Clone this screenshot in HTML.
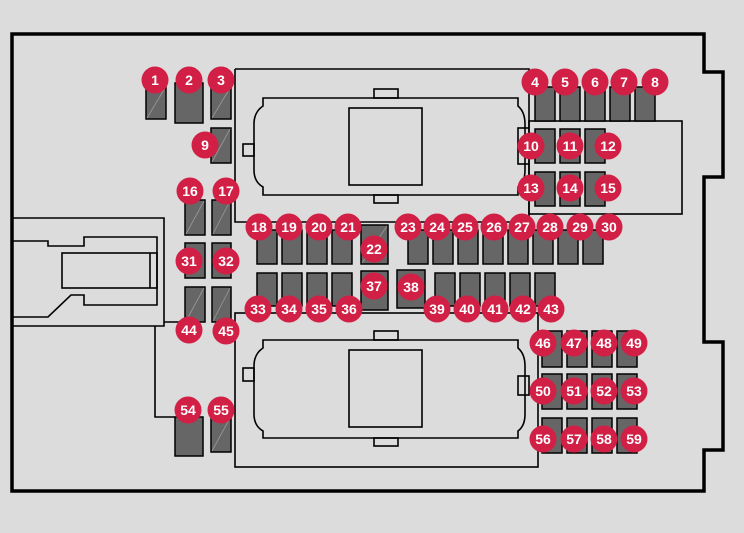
<!DOCTYPE html>
<html><head><meta charset="utf-8"><style>
html,body{margin:0;padding:0;background:#dcdcdc;}
svg{display:block;}
text{font-family:"Liberation Sans",sans-serif;font-weight:bold;font-size:14px;fill:#fff;text-anchor:middle;}
</style></head><body>
<svg width="744" height="533" viewBox="0 0 744 533" xmlns="http://www.w3.org/2000/svg">
<rect width="744" height="533" fill="#dcdcdc"/>
<path d="M12,34 H704 V72 H723 V177 H704 V342 H723 V450 H704 V491 H12 Z" fill="#dcdcdc" stroke="#000" stroke-width="3.5"/>
<g fill="none" stroke="#000" stroke-width="1.6">
<path d="M235,69 H529 V128"/>
<path d="M235,69 V222 H529 V164"/>
<rect x="529" y="121" width="153" height="93"/>
<path d="M263,98 H518 V106 Q525,112 525,124 V170 Q525,182 518,187 V195 H263 V187 Q254,182 254,170 V124 Q254,112 263,106 Z"/>
<rect x="349" y="108" width="73" height="77"/>
<rect x="374" y="89" width="24" height="9"/>
<rect x="374" y="195" width="24" height="8"/>
<rect x="243" y="144" width="11" height="12"/>
<rect x="518" y="128" width="11" height="36"/>
<rect x="235" y="313" width="303" height="154"/>
<path d="M263,340 H518 V348 Q525,354 525,366 V414 Q525,426 518,431 V438 H263 V431 Q254,426 254,414 V366 Q254,354 263,348 Z"/>
<rect x="349" y="350" width="73" height="77"/>
<rect x="374" y="331" width="24" height="9"/>
<rect x="374" y="438" width="24" height="8"/>
<rect x="243" y="368" width="11" height="13"/>
<rect x="518" y="376" width="11" height="19"/>
<path d="M12,218 H164 V326 H12"/>
<path d="M164,322 H185"/>
<path d="M155,326 V417 H175"/>
<path d="M12,241 H48 V246 H84 V237 H157 V305 H84 V295 H71 L48,317 H12"/>
<rect x="62" y="253" width="95" height="35"/>
<path d="M150,253 V288"/>
</g>
<g fill="#666" stroke="#000" stroke-width="1.5">
<rect x="146" y="87" width="20" height="32"/>
<rect x="175" y="83" width="28" height="40"/>
<rect x="211" y="87" width="20" height="32"/>
<rect x="211" y="128" width="20" height="35"/>
<rect x="185" y="200" width="20" height="35"/>
<rect x="212" y="200" width="19" height="35"/>
<rect x="185" y="243" width="20" height="35"/>
<rect x="212" y="243" width="19" height="35"/>
<rect x="185" y="287" width="20" height="35"/>
<rect x="212" y="287" width="19" height="35"/>
<rect x="175" y="417" width="28" height="39"/>
<rect x="211" y="417" width="20" height="35"/>
<rect x="535" y="87" width="20" height="34"/>
<rect x="560" y="87" width="20" height="34"/>
<rect x="585" y="87" width="20" height="34"/>
<rect x="610" y="87" width="20" height="34"/>
<rect x="635" y="87" width="20" height="34"/>
<rect x="535" y="129" width="20" height="34"/>
<rect x="560" y="129" width="20" height="34"/>
<rect x="585" y="129" width="20" height="34"/>
<rect x="535" y="172" width="20" height="34"/>
<rect x="560" y="172" width="20" height="34"/>
<rect x="585" y="172" width="20" height="34"/>
<rect x="257" y="230" width="20" height="34"/>
<rect x="282" y="230" width="20" height="34"/>
<rect x="307" y="230" width="20" height="34"/>
<rect x="332" y="230" width="20" height="34"/>
<rect x="361" y="225" width="27" height="39"/>
<rect x="408" y="230" width="20" height="34"/>
<rect x="433" y="230" width="20" height="34"/>
<rect x="458" y="230" width="20" height="34"/>
<rect x="483" y="230" width="20" height="34"/>
<rect x="508" y="230" width="20" height="34"/>
<rect x="533" y="230" width="20" height="34"/>
<rect x="558" y="230" width="20" height="34"/>
<rect x="583" y="230" width="20" height="34"/>
<rect x="257" y="273" width="20" height="33"/>
<rect x="282" y="273" width="20" height="33"/>
<rect x="307" y="273" width="20" height="33"/>
<rect x="332" y="273" width="20" height="33"/>
<rect x="361" y="271" width="27" height="39"/>
<rect x="397" y="270" width="28" height="38"/>
<rect x="435" y="273" width="20" height="33"/>
<rect x="460" y="273" width="20" height="33"/>
<rect x="485" y="273" width="20" height="33"/>
<rect x="510" y="273" width="20" height="33"/>
<rect x="535" y="273" width="20" height="33"/>
<rect x="542" y="331" width="20" height="36"/>
<rect x="567" y="331" width="20" height="36"/>
<rect x="592" y="331" width="20" height="36"/>
<rect x="617" y="331" width="20" height="36"/>
<rect x="542" y="374" width="20" height="35"/>
<rect x="567" y="374" width="20" height="35"/>
<rect x="592" y="374" width="20" height="35"/>
<rect x="617" y="374" width="20" height="35"/>
<rect x="542" y="418" width="20" height="35"/>
<rect x="567" y="418" width="20" height="35"/>
<rect x="592" y="418" width="20" height="35"/>
<rect x="617" y="418" width="20" height="35"/>
</g>
<g stroke="#999" stroke-width="0.8">
<path d="M147,118 L165,88"/><path d="M212,118 L230,88"/><path d="M212,162 L230,129"/>
<path d="M186,234 L204,201"/><path d="M213,234 L230,201"/>
<path d="M186,321 L204,288"/><path d="M213,321 L230,288"/>
<path d="M212,451 L230,418"/><path d="M362,263 L387,226"/>
</g>
<g fill="#d21f45">
<circle cx="155" cy="80" r="13.5"/><circle cx="189" cy="80" r="13.5"/><circle cx="221" cy="80" r="13.5"/>
<circle cx="205" cy="145" r="13.5"/>
<circle cx="190" cy="191" r="13.5"/><circle cx="226" cy="191" r="13.5"/>
<circle cx="189" cy="261" r="13.5"/><circle cx="226" cy="261" r="13.5"/>
<circle cx="189" cy="330" r="13.5"/><circle cx="226" cy="331" r="13.5"/>
<circle cx="188" cy="410" r="13.5"/><circle cx="221" cy="410" r="13.5"/>
<circle cx="535" cy="82" r="13.5"/><circle cx="565" cy="82" r="13.5"/><circle cx="595" cy="82" r="13.5"/><circle cx="624" cy="82" r="13.5"/><circle cx="655" cy="82" r="13.5"/>
<circle cx="531" cy="146" r="13.5"/><circle cx="570" cy="146" r="13.5"/><circle cx="608" cy="146" r="13.5"/>
<circle cx="531" cy="188" r="13.5"/><circle cx="570" cy="188" r="13.5"/><circle cx="608" cy="188" r="13.5"/>
<circle cx="259" cy="227" r="13.5"/><circle cx="289" cy="227" r="13.5"/><circle cx="319" cy="227" r="13.5"/><circle cx="348" cy="227" r="13.5"/>
<circle cx="374" cy="249" r="13.5"/>
<circle cx="408" cy="227" r="13.5"/><circle cx="437" cy="227" r="13.5"/><circle cx="465" cy="227" r="13.5"/><circle cx="494" cy="227" r="13.5"/><circle cx="522" cy="227" r="13.5"/><circle cx="550" cy="227" r="13.5"/><circle cx="580" cy="227" r="13.5"/><circle cx="609" cy="227" r="13.5"/>
<circle cx="258" cy="309" r="13.5"/><circle cx="289" cy="309" r="13.5"/><circle cx="319" cy="309" r="13.5"/><circle cx="349" cy="309" r="13.5"/>
<circle cx="374" cy="286" r="13.5"/><circle cx="411" cy="287" r="13.5"/>
<circle cx="437" cy="309" r="13.5"/><circle cx="467" cy="309" r="13.5"/><circle cx="495" cy="309" r="13.5"/><circle cx="523" cy="309" r="13.5"/><circle cx="551" cy="309" r="13.5"/>
<circle cx="543" cy="343" r="13.5"/><circle cx="574" cy="343" r="13.5"/><circle cx="604" cy="343" r="13.5"/><circle cx="634" cy="343" r="13.5"/>
<circle cx="543" cy="391" r="13.5"/><circle cx="574" cy="391" r="13.5"/><circle cx="604" cy="391" r="13.5"/><circle cx="634" cy="391" r="13.5"/>
<circle cx="543" cy="439" r="13.5"/><circle cx="574" cy="439" r="13.5"/><circle cx="604" cy="439" r="13.5"/><circle cx="634" cy="439" r="13.5"/>
</g>
<g>
<text x="155" y="85">1</text><text x="189" y="85">2</text><text x="221" y="85">3</text>
<text x="205" y="150">9</text>
<text x="190" y="196">16</text><text x="226" y="196">17</text>
<text x="189" y="266">31</text><text x="226" y="266">32</text>
<text x="189" y="335">44</text><text x="226" y="336">45</text>
<text x="188" y="415">54</text><text x="221" y="415">55</text>
<text x="535" y="87">4</text><text x="565" y="87">5</text><text x="595" y="87">6</text><text x="624" y="87">7</text><text x="655" y="87">8</text>
<text x="531" y="151">10</text><text x="570" y="151">11</text><text x="608" y="151">12</text>
<text x="531" y="193">13</text><text x="570" y="193">14</text><text x="608" y="193">15</text>
<text x="259" y="232">18</text><text x="289" y="232">19</text><text x="319" y="232">20</text><text x="348" y="232">21</text>
<text x="374" y="254">22</text>
<text x="408" y="232">23</text><text x="437" y="232">24</text><text x="465" y="232">25</text><text x="494" y="232">26</text><text x="522" y="232">27</text><text x="550" y="232">28</text><text x="580" y="232">29</text><text x="609" y="232">30</text>
<text x="258" y="314">33</text><text x="289" y="314">34</text><text x="319" y="314">35</text><text x="349" y="314">36</text>
<text x="374" y="291">37</text><text x="411" y="292">38</text>
<text x="437" y="314">39</text><text x="467" y="314">40</text><text x="495" y="314">41</text><text x="523" y="314">42</text><text x="551" y="314">43</text>
<text x="543" y="348">46</text><text x="574" y="348">47</text><text x="604" y="348">48</text><text x="634" y="348">49</text>
<text x="543" y="396">50</text><text x="574" y="396">51</text><text x="604" y="396">52</text><text x="634" y="396">53</text>
<text x="543" y="444">56</text><text x="574" y="444">57</text><text x="604" y="444">58</text><text x="634" y="444">59</text>
</g>
</svg>
</body></html>
